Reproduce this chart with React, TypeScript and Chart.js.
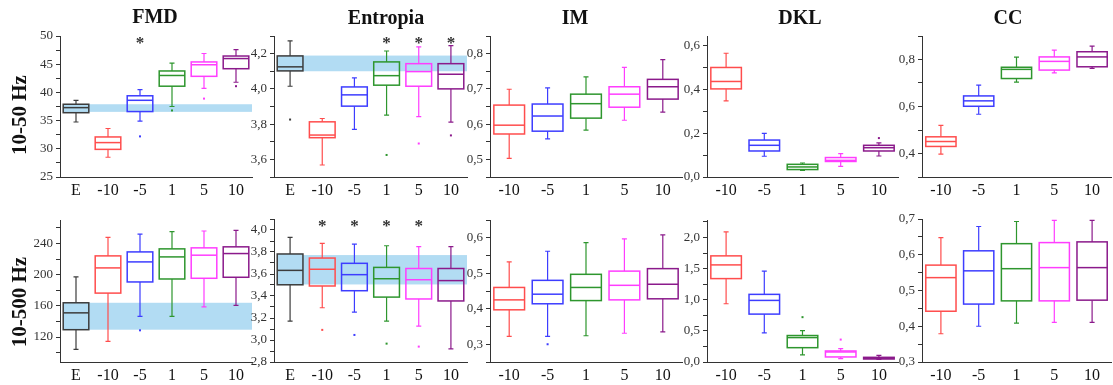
import React, { useEffect, useRef } from 'react';
import { Chart, registerables } from 'chart.js';
Chart.register(...registerables);

// ---- categories ----
const catsE = ['E', '-10', '-5', '1', '5', '10'];
const catsN = ['-10', '-5', '1', '5', '10'];

// ---- box statistics: [whiskerLow, q1, median, q3, whiskerHigh] ----
// 10-50 Hz
const fmd50 = [
  [34.75, 36.4, 37.3, 37.9, 38.6],
  [28.5, 29.9, 31.1, 32.1, 33.6],
  [34.9, 36.6, 38.6, 39.4, 40.5],
  [37.5, 41.1, 43.0, 43.8, 45.2],
  [40.7, 42.85, 44.9, 45.4, 46.9],
  [41.8, 44.2, 46.0, 46.45, 47.6],
];
const fmd50Out = [null, null, 32.2, 36.8, 38.9, 41.1];
const fmd50Stars = [2];
const fmd50Band = [36.55, 37.9];

const ent50 = [
  [4.015, 4.102, 4.125, 4.187, 4.272],
  [3.568, 3.723, 3.738, 3.813, 3.832],
  [3.77, 3.902, 3.966, 4.011, 4.062],
  [3.851, 4.021, 4.075, 4.153, 4.215],
  [3.842, 4.015, 4.098, 4.143, 4.238],
  [3.811, 4.0, 4.083, 4.143, 4.245],
];
const ent50Out = [3.826, null, null, 3.625, 3.69, 3.736];
const ent50Stars = [3, 4, 5];
const ent50Band = [4.1, 4.189];

const im50 = [
  [0.503, 0.572, 0.597, 0.654, 0.699],
  [0.558, 0.58, 0.623, 0.657, 0.703],
  [0.583, 0.617, 0.658, 0.685, 0.734],
  [0.611, 0.648, 0.685, 0.706, 0.761],
  [0.634, 0.671, 0.706, 0.727, 0.783],
];
const im50Out = [null, null, null, null, null];

const dkl50 = [
  [0.348, 0.403, 0.437, 0.501, 0.566],
  [0.095, 0.119, 0.145, 0.169, 0.2],
  [0.03, 0.034, 0.046, 0.058, 0.064],
  [0.049, 0.071, 0.076, 0.089, 0.107],
  [0.096, 0.119, 0.134, 0.145, 0.156],
];
const dkl50Out = [null, null, null, null, 0.178];

const cc50 = [
  [0.397, 0.43, 0.451, 0.471, 0.52],
  [0.567, 0.601, 0.624, 0.645, 0.691],
  [0.704, 0.719, 0.758, 0.767, 0.81],
  [0.743, 0.755, 0.792, 0.811, 0.84],
  [0.762, 0.769, 0.811, 0.833, 0.857],
];
const cc50Out = [null, null, null, null, null];

// 10-500 Hz
const fmd500 = [
  [104.1, 129.4, 151, 163.9, 197.1],
  [114.4, 176.3, 208.6, 224, 247.7],
  [146.5, 190.6, 216.3, 229.1, 252],
  [146.5, 194.4, 222.7, 233, 255],
  [158.7, 195.3, 224.9, 234.3, 255.9],
  [160.7, 196.6, 227, 235.6, 256.7],
];
const fmd500Out = [null, null, 128.6, null, null, null];
const fmd500Band = [129.4, 163.9];

const ent500 = [
  [3.172, 3.502, 3.633, 3.782, 3.933],
  [3.293, 3.491, 3.643, 3.745, 3.878],
  [3.254, 3.448, 3.594, 3.697, 3.872],
  [3.172, 3.39, 3.557, 3.66, 3.857],
  [3.127, 3.373, 3.548, 3.65, 3.848],
  [2.92, 3.355, 3.54, 3.65, 3.848],
];
const ent500Out = [null, 3.092, 3.046, 2.967, 2.94, null];
const ent500Stars = [1, 2, 3, 4];
const ent500Band = [3.505, 3.772];

const im500 = [
  [0.322, 0.397, 0.425, 0.46, 0.532],
  [0.322, 0.414, 0.441, 0.48, 0.562],
  [0.324, 0.423, 0.46, 0.497, 0.586],
  [0.331, 0.425, 0.466, 0.506, 0.597],
  [0.335, 0.428, 0.469, 0.513, 0.608],
];
const im500Out = [null, 0.3, null, null, null];

const dkl500 = [
  [0.935, 1.339, 1.559, 1.704, 2.09],
  [0.468, 0.769, 0.989, 1.086, 1.46],
  [0.113, 0.23, 0.392, 0.425, 0.505],
  [0.054, 0.081, 0.161, 0.177, 0.215],
  [0.043, 0.048, 0.06, 0.075, 0.107],
];
const dkl500Out = [null, null, 0.72, 0.36, null];

const cc500 = [
  [0.379, 0.442, 0.536, 0.571, 0.648],
  [0.4, 0.462, 0.555, 0.611, 0.679],
  [0.409, 0.471, 0.561, 0.631, 0.693],
  [0.411, 0.471, 0.564, 0.634, 0.696],
  [0.411, 0.473, 0.564, 0.636, 0.696],
];
const cc500Out = [null, null, null, null, null];

// ---- titles ----
const colTitles = ['FMD', 'Entropia', 'IM', 'DKL', 'CC'];
const rowTitles = ['10-50 Hz', '10-500 Hz'];

// ---- styles ----
const COLORS: Record<string, string> = {
  E: '#3c3c3c',
  '-10': '#ff4d4d',
  '-5': '#3d3dff',
  '1': '#2e962e',
  '5': '#ff3dff',
  '10': '#8b1a8b',
};
const BAND = 'rgb(178,220,243)';
const SERIF = "'Liberation Serif', 'Times New Roman', serif";

type Panel = {
  cats: string[];
  stats: number[][];
  out: (number | null)[];
  stars?: number[];
  band?: number[];
  min: number;
  max: number;
  major: number;
  minor: number;
  dec: number;
  L: number;
  R: number;
  T: number;
  B: number;
};

const TOP_T = 36, TOP_B = 177, BOT_T = 220, BOT_B = 362;
const COLS = [
  { L: 60, R: 252 },
  { L: 274, R: 467 },
  { L: 490, R: 682 },
  { L: 707, R: 898 },
  { L: 922, R: 1111 },
];

const panels: Panel[] = [
  { cats: catsE, stats: fmd50, out: fmd50Out, stars: fmd50Stars, band: fmd50Band, min: 25, max: 50, major: 5, minor: 2.5, dec: 0, ...COLS[0], T: TOP_T, B: TOP_B },
  { cats: catsE, stats: ent50, out: ent50Out, stars: ent50Stars, band: ent50Band, min: 3.5, max: 4.3, major: 0.2, minor: 0.1, dec: 1, ...COLS[1], T: TOP_T, B: TOP_B },
  { cats: catsN, stats: im50, out: im50Out, min: 0.45, max: 0.85, major: 0.1, minor: 0.05, dec: 1, ...COLS[2], T: TOP_T, B: TOP_B },
  { cats: catsN, stats: dkl50, out: dkl50Out, min: 0, max: 0.645, major: 0.2, minor: 0.1, dec: 1, ...COLS[3], T: TOP_T, B: TOP_B },
  { cats: catsN, stats: cc50, out: cc50Out, min: 0.3, max: 0.9, major: 0.2, minor: 0.1, dec: 1, ...COLS[4], T: TOP_T, B: TOP_B },
  { cats: catsE, stats: fmd500, out: fmd500Out, band: fmd500Band, min: 88, max: 270, major: 40, minor: 20, dec: 0, ...COLS[0], T: BOT_T, B: BOT_B },
  { cats: catsE, stats: ent500, out: ent500Out, stars: ent500Stars, band: ent500Band, min: 2.8, max: 4.1, major: 0.2, minor: 0.1, dec: 1, ...COLS[1], T: BOT_T - 1, B: BOT_B },
  { cats: catsN, stats: im500, out: im500Out, min: 0.25, max: 0.65, major: 0.1, minor: 0.05, dec: 1, ...COLS[2], T: BOT_T, B: BOT_B },
  { cats: catsN, stats: dkl500, out: dkl500Out, min: 0, max: 2.28, major: 0.5, minor: 0.25, dec: 1, ...COLS[3], T: BOT_T, B: BOT_B },
  { cats: catsN, stats: cc500, out: cc500Out, min: 0.3, max: 0.7, major: 0.1, minor: 0.05, dec: 1, ...COLS[4], T: BOT_T - 1, B: BOT_B },
];

const AXW = 50; // y-axis area width
const AXH = 28; // x-axis area height
const PADT = 12;
const PADR = 1;

function BoxPanel({ p }: { p: Panel }) {
  const ref = useRef<HTMLCanvasElement>(null);
  const left = p.L - AXW;
  const top = p.T - PADT;
  const width = p.R + PADR - left;
  const height = p.B - top + AXH;

  useEffect(() => {
    const canvas = ref.current!;
    const colors = p.cats.map((c) => COLORS[c]);

    const boxPlugin = {
      id: 'boxplotDraw',
      beforeDatasetsDraw(chart: any) {
        if (!p.band) return;
        const { ctx, chartArea } = chart;
        const y = chart.scales.y;
        const meta = chart.getDatasetMeta(0);
        const x0 = meta.data[0].x;
        const y1 = y.getPixelForValue(p.band[1]);
        const y0 = y.getPixelForValue(p.band[0]);
        ctx.save();
        ctx.fillStyle = BAND;
        ctx.fillRect(x0, y1, chartArea.right - x0, y0 - y1);
        ctx.restore();
      },
      afterDatasetsDraw(chart: any) {
        const { ctx, chartArea } = chart;
        const y = chart.scales.y;
        const meta = chart.getDatasetMeta(0);
        p.stats.forEach((s, i) => {
          const el: any = meta.data[i];
          const x = el.x;
          const w = el.width;
          const col = colors[i];
          ctx.save();
          ctx.strokeStyle = col;
          // box outline (centered on edges)
          ctx.lineWidth = 1.5;
          const bTop = Math.min(el.y, el.base);
          const bBot = Math.max(el.y, el.base);
          ctx.strokeRect(x - w / 2, bTop, w, bBot - bTop);
          // median
          const ym = y.getPixelForValue(s[2]);
          ctx.beginPath();
          ctx.moveTo(x - w / 2, ym);
          ctx.lineTo(x + w / 2, ym);
          ctx.stroke();
          // whiskers
          ctx.lineWidth = 1.2;
          const yq1 = y.getPixelForValue(s[1]);
          const yq3 = y.getPixelForValue(s[3]);
          const ylo = y.getPixelForValue(s[0]);
          const yhi = y.getPixelForValue(s[4]);
          ctx.beginPath();
          ctx.moveTo(x, yq3);
          ctx.lineTo(x, yhi);
          ctx.moveTo(x, yq1);
          ctx.lineTo(x, ylo);
          ctx.moveTo(x - 2.5, yhi);
          ctx.lineTo(x + 2.5, yhi);
          ctx.moveTo(x - 2.5, ylo);
          ctx.lineTo(x + 2.5, ylo);
          ctx.stroke();
          // outlier
          const o = p.out[i];
          if (o !== null && o !== undefined) {
            const yo = y.getPixelForValue(o);
            ctx.fillStyle = col;
            ctx.fillRect(x - 1, yo - 1, 2, 2);
          }
          ctx.restore();
        });
        if (p.stars) {
          ctx.save();
          ctx.fillStyle = '#333';
          ctx.font = `bold 17px ${SERIF}`;
          ctx.textAlign = 'center';
          ctx.textBaseline = 'top';
          p.stars.forEach((i) => {
            const el: any = meta.data[i];
            ctx.fillText('*', el.x, chartArea.top - 1);
          });
          ctx.restore();
        }
      },
    };

    const isMajor = (v: number) => Math.abs(v / p.major - Math.round(v / p.major)) < 1e-6;

    const chart = new Chart(canvas, {
      type: 'bar',
      data: {
        labels: p.cats,
        datasets: [
          {
            data: p.stats.map((s) => [s[1], s[3]]) as any,
            backgroundColor: p.cats.map((c) => (c === 'E' ? BAND : 'rgba(255,255,255,0)')),
            borderWidth: 0,
            borderSkipped: false,
            barPercentage: 0.8,
            categoryPercentage: 1,
          },
        ],
      },
      options: {
        responsive: false,
        maintainAspectRatio: false,
        animation: false,
        events: [],
        layout: { padding: { top: PADT, right: PADR, left: 0, bottom: 0 } },
        plugins: { legend: { display: false }, tooltip: { enabled: false }, title: { display: false } },
        scales: {
          x: {
            type: 'category',
            offset: true,
            grid: { display: false, drawTicks: false },
            border: { display: true, color: '#333', width: 1 },
            ticks: { color: '#111', font: { family: SERIF, size: 16 }, padding: 4, maxRotation: 0, autoSkip: false },
            afterFit: (scale: any) => {
              scale.height = AXH;
            },
          },
          y: {
            type: 'linear',
            min: p.min,
            max: p.max,
            grid: { display: true, drawOnChartArea: false, drawTicks: true, tickLength: 4, color: '#333', lineWidth: 1 },
            border: { display: true, color: '#333', width: 1 },
            ticks: {
              stepSize: p.minor,
              autoSkip: false,
              includeBounds: false,
              padding: 3,
              color: '#333',
              font: { family: SERIF, size: 13 },
              callback: (v: any) => (isMajor(Number(v)) ? Number(v).toFixed(p.dec).replace('.', ',') : ''),
            },
            afterFit: (scale: any) => {
              scale.width = AXW;
            },
          },
        },
      } as any,
      plugins: [boxPlugin],
    });
    return () => chart.destroy();
  }, []);

  return (
    <canvas
      ref={ref}
      width={width}
      height={height}
      style={{ position: 'absolute', left, top, width, height }}
    />
  );
}

const titlePos = [
  { cx: 155, cy: 16 },
  { cx: 386, cy: 17 },
  { cx: 575, cy: 17 },
  { cx: 800, cy: 17 },
  { cx: 1008, cy: 17 },
];
const rowPos = [
  { cx: 19, cy: 115 },
  { cx: 19, cy: 302 },
];

export default function App() {
  return (
    <div
      style={{
        position: 'absolute',
        left: 0,
        top: 0,
        width: 1113,
        height: 385,
        overflow: 'hidden',
        background: '#fff',
      }}
    >
      {panels.map((p, i) => (
        <BoxPanel key={i} p={p} />
      ))}
      {colTitles.map((t, i) => (
        <div
          key={t}
          style={{
            position: 'absolute',
            left: titlePos[i].cx - 100,
            top: titlePos[i].cy - 12,
            width: 200,
            height: 24,
            lineHeight: '24px',
            textAlign: 'center',
            fontFamily: SERIF,
            fontWeight: 'bold',
            fontSize: 20,
            color: '#111',
          }}
        >
          {t}
        </div>
      ))}
      {rowTitles.map((t, i) => (
        <div
          key={t}
          style={{
            position: 'absolute',
            left: rowPos[i].cx,
            top: rowPos[i].cy,
            transform: 'translate(-50%, -50%) rotate(-90deg)',
            whiteSpace: 'nowrap',
            fontFamily: SERIF,
            fontWeight: 'bold',
            fontSize: 21,
            lineHeight: '24px',
            color: '#111',
          }}
        >
          {t}
        </div>
      ))}
    </div>
  );
}
